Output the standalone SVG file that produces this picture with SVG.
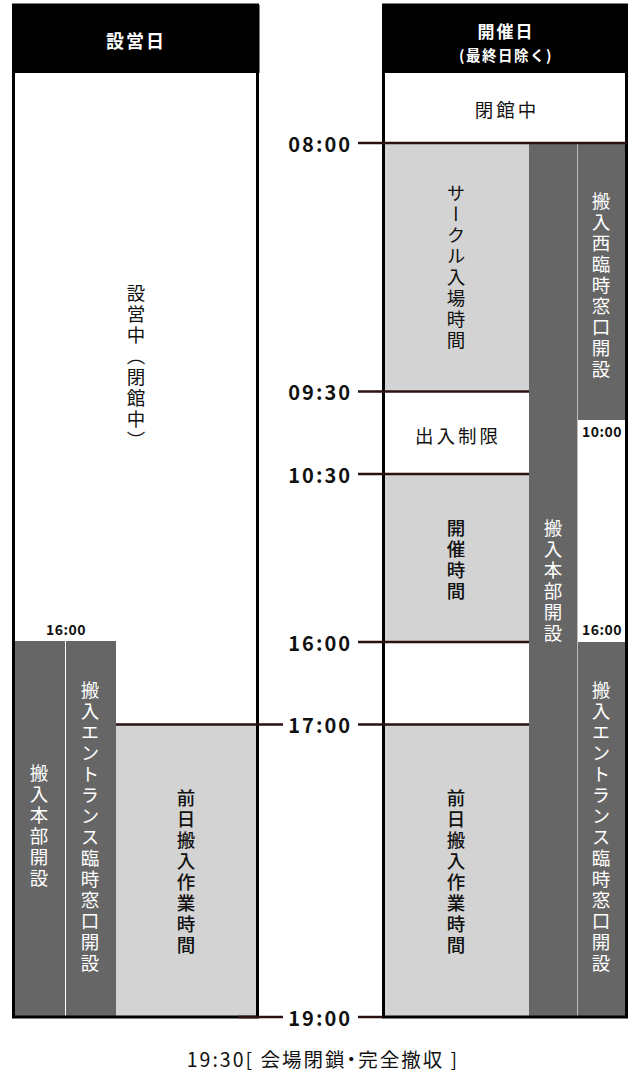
<svg xmlns="http://www.w3.org/2000/svg" width="633" height="1073" viewBox="0 0 633 1073">
<style>
text{font-family:"Noto Sans CJK JP","Noto Sans",sans-serif;fill:#111}
.hd{fill:#fff;font-weight:bold;text-anchor:middle}
.v{writing-mode:vertical-rl;text-anchor:middle;font-size:18.5px;letter-spacing:2.5px}
.vw{fill:#fff}
.vm{font-weight:500}
.h{text-anchor:middle;font-size:18.5px;letter-spacing:3px}
.t{font-weight:bold;font-size:20px;letter-spacing:2px;text-anchor:end}
.ts{font-weight:bold;font-size:14px;letter-spacing:0.5px;text-anchor:middle}
.dk{fill:#666}
.lt{fill:#d3d3d3}
.frame{fill:none;stroke:#000;stroke-width:3}
.ln{stroke:#2a1212;stroke-width:2.5;fill:none}
.ft{text-anchor:middle;font-size:19.5px;letter-spacing:2px;font-feature-settings:"palt"}
</style>
<g id="panel-setup">
<rect x="12" y="5" width="247.5" height="68" fill="#000"/>
<rect x="13.5" y="73" width="244" height="944" fill="#fff"/>
<text class="hd" x="136" y="48" font-size="18" letter-spacing="2">設営日</text>
</g>
<g id="panel-event">
<rect x="382" y="5" width="246" height="68" fill="#000"/>
<rect x="383.5" y="73" width="243" height="944" fill="#fff"/>
<text class="hd" x="506" y="38" font-size="17" letter-spacing="2">開催日</text>
<text class="hd" x="506" y="61" font-size="14.5" letter-spacing="1.5">(最終日除く)</text>
</g>
<g id="setup-closed">
<text class="v" x="136" y="368">設営中（閉館中）</text>
</g>
<g id="setup-hq">
<rect class="dk" x="15" y="641" width="50" height="375"/>
<text class="v vw" x="39" y="827">搬入本部開設</text>
</g>
<g id="setup-entrance">
<rect class="dk" x="66" y="641" width="50" height="375"/>
<text class="v vw" x="90" y="828">搬入エントランス臨時窓口開設</text>
</g>
<g id="setup-label-1600">
<text class="ts" x="66" y="635">16:00</text>
</g>
<g id="setup-prev">
<rect class="lt" x="116" y="724" width="140" height="292"/>
<text class="v vm" x="186" y="873">前日搬入作業時間</text>
</g>
<g id="event-closed">
<text class="h" x="507" y="117">閉館中</text>
</g>
<g id="event-circle">
<rect class="lt" x="385" y="143" width="144" height="248"/>
<text class="v" x="456" y="268">サークル入場時間</text>
</g>
<g id="event-restrict">
<text class="h" x="458" y="443">出入制限</text>
</g>
<g id="event-open">
<rect class="lt" x="385" y="474" width="144" height="168"/>
<text class="v vm" x="456" y="561">開催時間</text>
</g>
<g id="event-prev">
<rect class="lt" x="385" y="724" width="144" height="292"/>
<text class="v vm" x="456" y="873">前日搬入作業時間</text>
</g>
<g id="event-hq">
<rect class="dk" x="529" y="143" width="48" height="873"/>
<text class="v vw" x="553" y="582">搬入本部開設</text>
</g>
<g id="event-west">
<rect class="dk" x="578" y="143" width="47" height="277"/>
<text class="v vw" x="601" y="286">搬入西臨時窓口開設</text>
<text class="ts" x="602" y="437">10:00</text>
</g>
<g id="event-entrance">
<rect class="dk" x="578" y="642" width="47" height="374"/>
<text class="ts" x="602" y="635">16:00</text>
<text class="v vw" x="601" y="828">搬入エントランス臨時窓口開設</text>
</g>
<g id="separators">
<rect x="577" y="143" width="1" height="873" fill="#bdbdbd"/>
<rect x="65" y="641" width="1" height="375" fill="#fff"/>
</g>
<g id="frames">
<rect class="frame" x="13.5" y="5" width="244" height="1012"/>
<rect class="frame" x="383.5" y="5" width="243" height="1012"/>
</g>
<g id="connectors">
<line class="ln" x1="358" y1="143" x2="627" y2="143"/>
<line class="ln" x1="358" y1="391.5" x2="529" y2="391.5"/>
<line class="ln" x1="358" y1="474" x2="529" y2="474"/>
<line class="ln" x1="358" y1="642" x2="529" y2="642"/>
<line class="ln" x1="116" y1="724.5" x2="283" y2="724.5"/>
<line class="ln" x1="358" y1="724.5" x2="529" y2="724.5"/>
<line class="ln" x1="238" y1="1017" x2="283" y2="1017"/>
<line class="ln" x1="358" y1="1017" x2="383" y2="1017"/>
</g>
<g id="time-labels">
<text class="t" x="352" y="152">08:00</text>
<text class="t" x="352" y="400">09:30</text>
<text class="t" x="352" y="483">10:30</text>
<text class="t" x="352" y="651">16:00</text>
<text class="t" x="352" y="733">17:00</text>
<text class="t" x="352" y="1026">19:00</text>
</g>
<g id="footer">
<text class="ft" x="323" y="1067">19:30[ 会場閉鎖・完全撤収 ]</text>
</g>
</svg>
